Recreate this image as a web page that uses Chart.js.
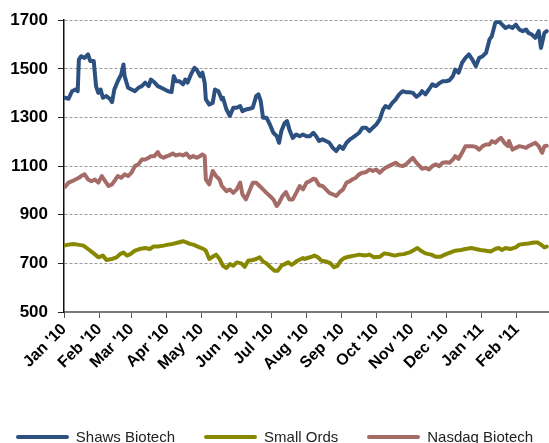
<!DOCTYPE html>
<html>
<head>
<meta charset="utf-8">
<script src="https://cdn.jsdelivr.net/npm/chart.js@4/dist/chart.umd.min.js"></script>
<style>
  html, body { margin: 0; padding: 0; background: #fff; overflow: hidden; }
  #wrap { position: relative; width: 549px; height: 443px; }
  #legend { position: absolute; left: 0; top: 428px; width: 549px; display: flex; justify-content: center; gap: 29px;
            font-family: Arial, "Liberation Sans", sans-serif; font-size: 15px; color: #222; }
  .item { display: flex; align-items: center; height: 17px; }
  .swatch { width: 53px; height: 4px; margin-right: 7px; border-radius: 2px; }
</style>
</head>
<body>
<div id="wrap">
  <canvas id="c" width="549" height="443"></canvas>
  <div id="legend"></div>
</div>
<script>
// Month ticks (days since 1 Jan 2010)
const monthDays = [0, 31, 59, 90, 120, 151, 181, 212, 243, 273, 304, 334, 365, 396];
const monthLabels = ["Jan '10", "Feb '10", "Mar '10", "Apr '10", "May '10", "Jun '10", "Jul '10",
                     "Aug '10", "Sep '10", "Oct '10", "Nov '10", "Dec '10", "Jan '11", "Feb '11"];
const seriesNames = ["Shaws Biotech", "Small Ords", "Nasdaq Biotech"];
const seriesColors = ["#2c5080", "#888800", "#a56b66"];

// Shaws Biotech
const shawsDays = [1,4,7,10,12,13,15,18,21,23,26,28,30,32,34,37,40,42,44,47,50,52,53,56,59,62,65,68,71,74,76,79,82,85,88,91,94,96,98,101,104,106,108,111,114,116,119,121,123,124,127,130,132,135,138,
  139,142,145,148,151,154,156,159,162,165,168,170,172,174,177,180,183,186,188,190,193,195,197,200,203,206,209,212,215,218,220,223,226,229,232,235,238,241,244,247,250,252,255,258,261,264,267,270,273,
  276,279,281,284,287,290,293,296,299,302,305,308,311,313,316,319,322,325,328,331,334,337,340,342,345,348,351,354,357,360,363,366,369,372,374,377,380,383,386,389,392,395,398,401,404,406,409,412,415,417,420,422];
const shawsValues = [1381,1377,1408,1415,1408,1538,1552,1545,1559,1532,1532,1429,1401,1415,1381,1388,1377,1363,1415,1449,1477,1518,1470,1422,1415,1408,1422,1429,1443,1429,1456,1445,1429,1422,1415,1408,1404,1470,1449,1449,1436,1456,1443,1477,1504,1497,1470,1484,1443,1374,1353,1360,1415,1408,1374,
  1381,1333,1306,1340,1340,1347,1326,1333,1336,1340,1388,1395,1367,1299,1299,1271,1237,1223,1196,1244,1278,1285,1251,1216,1230,1223,1230,1223,1223,1237,1226,1203,1210,1203,1196,1175,1162,1182,1171,1196,1210,1216,1226,1237,1258,1258,1244,1258,1271,
  1292,1333,1347,1340,1360,1374,1395,1408,1404,1404,1401,1385,1395,1408,1395,1415,1436,1429,1440,1449,1449,1453,1470,1497,1484,1525,1545,1559,1538,1511,1545,1552,1566,1621,1634,1689,1696,1682,1668,1675,1668,1682,1662,1655,1662,1648,1641,1627,1655,1586,1648,1655];

// Small Ords
const ordsDays = [0,4,8,12,17,21,26,30,34,37,42,46,49,52,55,58,62,66,71,75,78,82,87,91,95,100,104,107,110,113,117,122,124,127,130,133,136,139,142,145,148,151,155,158,161,165,168,171,174,177,180,184,187,190,193,196,199,201,204,209,
  210,215,219,222,225,229,233,236,239,242,245,249,254,258,263,267,271,276,280,284,289,293,297,302,306,309,312,316,321,325,329,334,338,342,347,351,356,360,364,369,373,377,380,383,386,390,395,398,402,406,411,414,417,420,422];
const ordsValues = [773,777,780,777,773,759,741,725,732,714,718,725,738,745,732,738,752,759,763,759,769,769,773,777,780,786,791,786,780,777,769,759,752,718,727,736,718,690,681,697,690,704,700,686,711,714,718,725,708,700,686,670,670,690,697,704,694,700,711,722,
  718,725,732,725,711,708,700,684,690,711,722,727,732,736,732,736,725,727,741,738,732,736,738,745,755,763,752,741,736,727,727,738,745,752,755,759,763,759,755,752,749,759,763,755,763,759,766,777,780,782,786,786,777,766,769];

// Nasdaq Biotech
const nasdaqDays = [1,4,7,10,13,15,18,21,24,27,30,33,36,39,42,45,47,50,53,56,59,62,65,68,71,74,76,79,82,84,87,90,92,95,98,101,104,107,110,113,116,119,121,123,124,127,130,133,136,138,
  142,145,148,151,154,156,159,162,165,168,171,174,177,180,183,186,188,191,194,197,200,203,206,209,212,215,218,220,223,226,229,232,235,238,241,244,247,250,252,255,258,261,264,267,270,273,
  276,279,281,284,287,290,293,296,299,302,305,308,311,313,316,319,322,325,328,331,334,337,340,342,345,348,351,354,357,360,363,366,369,372,374,377,380,382,385,388,389,392,395,398,401,404,406,409,412,415,418,420,422];
const nasdaqValues = [1015,1032,1038,1045,1052,1059,1066,1045,1038,1045,1032,1059,1038,1018,1025,1045,1059,1052,1066,1059,1073,1100,1107,1127,1127,1134,1141,1141,1158,1141,1134,1141,1144,1152,1144,1148,1144,1152,1134,1141,1134,1141,1148,1141,1045,1025,1080,1059,1045,1018,
  997,1004,990,1004,1032,984,963,997,1032,1032,1018,1004,990,977,963,936,949,977,993,963,963,990,1018,1004,1032,1038,1048,1045,1021,1018,1004,990,984,977,993,1004,1032,1038,1045,1052,1066,1073,1075,1086,1080,1086,
  1073,1086,1093,1100,1107,1114,1103,1100,1107,1121,1134,1114,1100,1089,1093,1086,1100,1107,1100,1114,1116,1114,1127,1141,1130,1155,1182,1182,1182,1179,1168,1182,1189,1189,1203,1196,1210,1216,1196,1182,1203,1168,1175,1182,1179,1175,1182,1189,1196,1182,1155,1182,1184];

const yTickValues = [500, 700, 900, 1100, 1300, 1500, 1700];

const pts = (days, vals) => days.map((d, i) => ({ x: d, y: vals[i] }));
const seriesDays = [shawsDays, ordsDays, nasdaqDays];
const seriesValues = [shawsValues, ordsValues, nasdaqValues];

const datasets = seriesNames.map((name, i) => ({
  label: name,
  data: pts(seriesDays[i], seriesValues[i]),
  borderColor: seriesColors[i],
  backgroundColor: seriesColors[i],
  borderWidth: 4,
  pointRadius: 0,
  tension: 0,
  borderJoinStyle: 'round',
  borderCapStyle: 'round'
}));

new Chart(document.getElementById('c'), {
  type: 'line',
  data: { datasets },
  options: {
    responsive: false,
    animation: false,
    layout: { padding: { top: 20, right: 0, left: 0, bottom: 0 } },
    plugins: { legend: { display: false }, tooltip: { enabled: false } },
    scales: {
      x: {
        type: 'linear',
        min: 0,
        max: 424,
        afterBuildTicks: s => { s.ticks = monthDays.map(v => ({ value: v })); },
        afterFit: s => { s.height = 131; },
        grid: { drawOnChartArea: false, drawTicks: true, tickLength: 6, tickColor: '#555', tickWidth: 1 },
        border: { display: true, color: '#7a7a7a', width: 2 },
        ticks: {
          autoSkip: false,
          maxRotation: 45,
          minRotation: 45,
          padding: 2,
          color: '#000',
          font: { family: 'Arial, "Liberation Sans", sans-serif', size: 16, weight: 'bold' },
          callback: (v, i) => monthLabels[i]
        }
      },
      y: {
        min: 500,
        max: 1700,
        afterBuildTicks: s => { s.ticks = yTickValues.map(v => ({ value: v })); },
        afterFit: s => { s.width = 64; },
        grid: { color: '#9a9a9a', lineWidth: 1, drawTicks: true, tickLength: 6, tickColor: '#222', tickWidth: 1 },
        border: { display: true, color: '#111', width: 1.5, dash: [3, 2] },
        ticks: {
          padding: 10,
          color: '#000',
          font: { family: 'Arial, "Liberation Sans", sans-serif', size: 17, weight: 'bold' },
          callback: v => String(v)
        }
      }
    }
  }
});

// HTML legend built from the series
const legend = document.getElementById('legend');
seriesNames.forEach((name, i) => {
  const it = document.createElement('div');
  it.className = 'item';
  const sw = document.createElement('span');
  sw.className = 'swatch';
  sw.style.background = seriesColors[i];
  const tx = document.createElement('span');
  tx.textContent = name;
  it.appendChild(sw);
  it.appendChild(tx);
  legend.appendChild(it);
});
</script>
</body>
</html>
